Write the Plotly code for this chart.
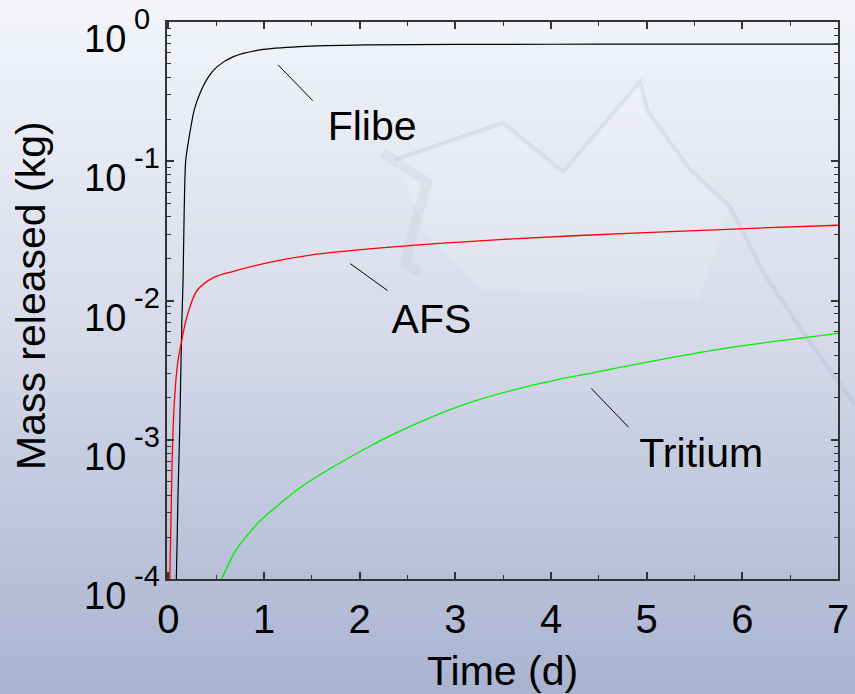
import math
import plotly.graph_objects as go

# ---------------- data ----------------
flibe_t = [0.083, 0.10, 0.118, 0.14, 0.153, 0.165, 0.18, 0.21, 0.27, 0.33, 0.42,
           0.51, 0.68, 0.96, 1.375, 2.07, 3.0, 4.0, 5.0, 6.0, 7.0]
flibe_m = [1e-4, 4e-4, 1.2e-3, 7e-3, 0.014, 0.045, 0.1, 0.14, 0.234, 0.308, 0.405,
           0.478, 0.564, 0.63, 0.665, 0.684, 0.69, 0.692, 0.693, 0.694, 0.694]

afs_t = [0.014, 0.028, 0.045, 0.066, 0.097, 0.125, 0.195, 0.30, 0.47, 0.68, 1.03,
         1.55, 2.42, 3.46, 4.92, 6.1, 7.0]
afs_m = [1e-4, 3.0e-4, 1e-3, 2.06e-3, 3.6e-3, 4.6e-3, 7.7e-3, 0.0118, 0.0146, 0.0162,
         0.0186, 0.0215, 0.0245, 0.0274, 0.0306, 0.033, 0.0347]

trit_t = [0.556, 0.684, 0.75, 0.96, 1.15, 1.39, 1.69, 2.03, 2.38, 3.08, 3.77, 4.47,
          5.16, 5.85, 6.55, 7.0]
trit_m = [1e-4, 1.52e-4, 1.78e-4, 2.62e-4, 3.4e-4, 4.6e-4, 6.2e-4, 8.4e-4, 1.12e-3,
          1.78e-3, 2.43e-3, 3.06e-3, 3.78e-3, 4.57e-3, 5.31e-3, 5.8e-3]

x_ticks = [0, 1, 2, 3, 4, 5, 6, 7]
y_ticks = [1e-4, 1e-3, 1e-2, 1e-1, 1e0]
y_tick_base = ["10", "10", "10", "10", "10"]
y_tick_exp = ["-4", "-3", "-2", "-1", "0"]
y_minor = [m * 10 ** e for e in range(-4, 0) for m in range(2, 10)]

labels = ["Flibe", "AFS", "Tritium"]
label_t = [2.13, 2.75, 5.57]
label_m = [0.168, 0.0069, 0.00076]
leader_t = [[1.146, 1.51], [1.90, 2.29], [4.42, 4.81]]
leader_m = [[0.492, 0.272], [0.0184, 0.0118], [0.00234, 0.00123]]

# ---------------- figure ----------------
W, H = 855, 694
ML, MR, MT, MB = 167, 17, 22, 115
PW, PH = W - ML - MR, H - MT - MB
FONT = "Liberation Sans"


def px2paper_x(px):
    return (px - ML) / PW


def px2paper_y(py):
    return (H - MB - py) / PH


fig = go.Figure()

# background gradient (bands)
top = (244, 245, 251)
mid = (217, 221, 235)
bot = (170, 180, 209)
n = 80
shapes = []
for i in range(n):
    f = (i + 0.5) / n
    if f < 0.45:
        g = f / 0.45
        c = [top[k] + (mid[k] - top[k]) * g for k in range(3)]
    else:
        g = (f - 0.45) / 0.55
        c = [mid[k] + (bot[k] - mid[k]) * g for k in range(3)]
    y0 = H * i / n
    y1 = H * (i + 1) / n + 1
    shapes.append(dict(type="rect", xref="paper", yref="paper",
                       x0=px2paper_x(-2), x1=px2paper_x(W + 2),
                       y0=px2paper_y(y1), y1=px2paper_y(y0),
                       fillcolor="rgb(%d,%d,%d)" % tuple(int(v) for v in c),
                       line=dict(width=0), layer="below"))

# faint watermark (decorative)
wm = [(395, 160), (503, 123), (563, 172), (640, 82), (648, 112), (690, 170),
      (730, 207), (765, 275), (805, 335), (855, 405)]
path = "M " + " L ".join("%f,%f" % (px2paper_x(a), px2paper_y(b)) for a, b in wm)
shapes.append(dict(type="path", xref="paper", yref="paper", path=path,
                   line=dict(color="rgba(170,176,206,0.25)", width=4), layer="below"))
fill_pts = wm[:7] + [(700, 300), (480, 290), (425, 230)]
path2 = "M " + " L ".join("%f,%f" % (px2paper_x(a), px2paper_y(b)) for a, b in fill_pts) + " Z"
shapes.append(dict(type="path", xref="paper", yref="paper", path=path2,
                   fillcolor="rgba(255,255,255,0.14)", line=dict(width=0), layer="below"))
arm = [(383, 153), (427, 182), (412, 235), (405, 265), (420, 272)]
path3 = "M " + " L ".join("%f,%f" % (px2paper_x(a), px2paper_y(b)) for a, b in arm)
shapes.append(dict(type="path", xref="paper", yref="paper", path=path3,
                   line=dict(color="rgba(185,190,215,0.22)", width=10), layer="below"))

line_kw = dict(mode="lines", line_shape="spline", hoverinfo="skip")
fig.add_trace(go.Scatter(x=flibe_t, y=flibe_m, line=dict(color="black", width=1.2,
                                                         smoothing=0.7), **line_kw))
fig.add_trace(go.Scatter(x=afs_t, y=afs_m, line=dict(color="#ff0000", width=1.3,
                                                     smoothing=1.0), **line_kw))
fig.add_trace(go.Scatter(x=trit_t, y=trit_m, line=dict(color="#00ee00", width=1.3,
                                                       smoothing=1.0), **line_kw))

for lt, lm in zip(leader_t, leader_m):
    fig.add_trace(go.Scatter(x=lt, y=lm, mode="lines",
                             line=dict(color="black", width=1), hoverinfo="skip"))

fig.add_trace(go.Scatter(x=label_t, y=label_m, mode="text", text=labels,
                         textposition="middle center",
                         textfont=dict(family=FONT, size=41, color="black"),
                         hoverinfo="skip"))

axis_common = dict(showgrid=False, zeroline=False, showline=True, linecolor="#333333",
                   linewidth=1.5, mirror="allticks", ticks="inside", ticklen=7,
                   tickwidth=1.5, tickcolor="#333333", automargin=False,
                   ticklabeloverflow="allow",
                   tickfont=dict(family=FONT, size=40, color="black"))

annotations = [
    dict(text="Time (d)", xref="paper", yref="paper", x=px2paper_x(502),
         y=px2paper_y(671), xanchor="center", yanchor="middle", showarrow=False,
         font=dict(family=FONT, size=41, color="black")),
    dict(text="Mass released (kg)", xref="paper", yref="paper", x=px2paper_x(31),
         y=px2paper_y(296), xanchor="center", yanchor="middle", showarrow=False,
         textangle=-90, font=dict(family=FONT, size=41, color="black")),
]
for v, b, e in zip(y_ticks, y_tick_base, y_tick_exp):
    annotations.append(dict(text=b, xref="paper", yref="y", x=px2paper_x(128),
                            y=math.log10(v), yshift=-17, xanchor="right",
                            yanchor="middle", showarrow=False,
                            font=dict(family=FONT, size=38, color="black")))
    annotations.append(dict(text=e, xref="paper", yref="y", x=px2paper_x(132),
                            y=math.log10(v), yshift=3, xanchor="left",
                            yanchor="middle", showarrow=False,
                            font=dict(family=FONT, size=29, color="black")))

fig.update_layout(
    width=W, height=H,
    margin=dict(l=ML, r=MR, t=MT, b=MB),
    paper_bgcolor="#e6e8f2",
    plot_bgcolor="rgba(0,0,0,0)",
    showlegend=False,
    shapes=shapes,
    xaxis=dict(range=[-0.015, 7], tickmode="array", tickvals=x_ticks,
               minor=dict(dtick=0.5, tick0=0, ticks="inside", ticklen=4,
                          tickwidth=1.2, tickcolor="#333333", showgrid=False),
               ticklabelstandoff=4, **axis_common),
    yaxis=dict(type="log", range=[-4, 0], tickmode="array", tickvals=y_ticks,
               showticklabels=False,
               minor=dict(tickmode="array", tickvals=y_minor, ticks="inside", ticklen=4,
                          tickwidth=1.2, tickcolor="#333333", showgrid=False),
               **axis_common),
    annotations=annotations,
)

fig.write_html("out.html", config={"displayModeBar": False},
               post_script="document.body.style.margin='0px';")
